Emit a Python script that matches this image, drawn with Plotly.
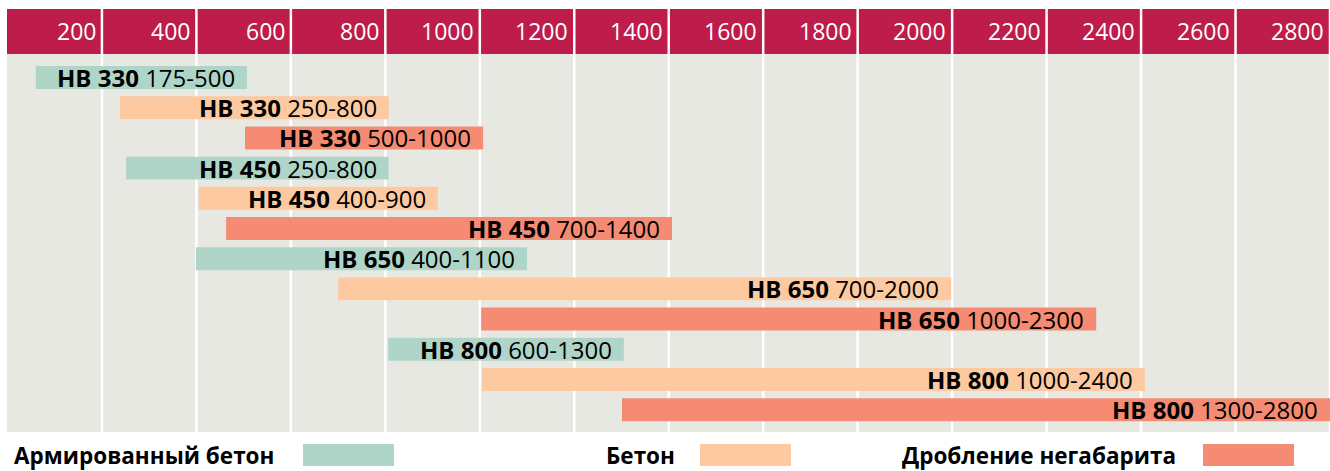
import plotly.graph_objects as go

# ---- data ----
models = ["HB 330", "HB 330", "HB 330", "HB 450", "HB 450", "HB 450",
          "HB 650", "HB 650", "HB 650", "HB 800", "HB 800", "HB 800"]
range_labels = ["175-500", "250-800", "500-1000", "250-800", "400-900", "700-1400",
                "400-1100", "700-2000", "1000-2300", "600-1300", "1000-2400", "1300-2800"]
bar_start = [60, 238, 503, 251, 405, 463, 399, 700, 1003, 806, 1005, 1301]
bar_end = [507, 807, 1007, 807, 911, 1407, 1100, 1998, 2305, 1305, 2408, 2800]
material = ["Армированный бетон", "Бетон", "Дробление негабарита"] * 4
categories = ["Армированный бетон", "Бетон", "Дробление негабарита"]
tick_values = [200, 400, 600, 800, 1000, 1200, 1400, 1600, 1800, 2000, 2200, 2400, 2600, 2800]

# ---- style ----
colors = {"Армированный бетон": "#AFD5C9", "Бетон": "#FDC9A0", "Дробление негабарита": "#F48B72"}
HEADER = "#BE1C4A"
BG = "#E8E8E3"
W, H = 1330, 471
ML, MR, MT, MB = 7, 0, 54, 39
XR = [-1, 2800]
YR = [11.74, -0.78]
plot_w = W - ML - MR
plot_h = H - MT - MB
header_h = 45
header_top = 1 + header_h / plot_h
FONT = "Open Sans"


def xp(v):
    return (v - XR[0]) / (XR[1] - XR[0])


def px2paper_x(px):
    return (px - ML) / plot_w


def py2paper_y(py):
    return (H - MB - py) / plot_h


fig = go.Figure()
rows = list(range(len(models)))
for cat in categories:
    idx = [i for i in rows if material[i] == cat]
    fig.add_trace(go.Bar(
        orientation="h",
        y=[rows[i] for i in idx],
        base=[bar_start[i] for i in idx],
        x=[bar_end[i] - bar_start[i] for i in idx],
        width=0.76,
        marker=dict(color=colors[cat], line=dict(width=0)),
        name=cat,
        showlegend=False,
        hoverinfo="skip",
    ))

shapes = []
annotations = []
# header band
shapes.append(dict(type="rect", xref="paper", yref="paper", x0=0, x1=1, y0=1, y1=header_top,
                   fillcolor=HEADER, line=dict(width=0), layer="below"))
# grid lines (body + header)
for v in tick_values:
    shapes.append(dict(type="line", xref="paper", yref="paper", x0=xp(v), x1=xp(v),
                       y0=0, y1=header_top, line=dict(color="white", width=2.5), layer="below"))
# header tick labels
for v in tick_values:
    annotations.append(dict(x=xp(v), y=1 + (header_h / 2) / plot_h, xref="paper", yref="paper",
                            text=str(v), showarrow=False, xanchor="right", yanchor="middle",
                            xshift=-4, font=dict(family=FONT, size=23, color="white")))
# bar labels
for i in rows:
    annotations.append(dict(x=bar_end[i], y=rows[i], xref="x", yref="y",
                            text=f"<b>{models[i]}</b> {range_labels[i]}", showarrow=False,
                            xanchor="right", yanchor="middle", xshift=-10, yshift=0,
                            font=dict(family=FONT, size=24, color="black")))
# custom legend
leg_text_x = [12, 604, 900]
leg_sw_x = [303, 700, 1203]
for cat, tx, sx in zip(categories, leg_text_x, leg_sw_x):
    annotations.append(dict(x=px2paper_x(tx), y=py2paper_y(455), xref="paper", yref="paper",
                            text=f"<b>{cat}</b>", showarrow=False, xanchor="left", yanchor="middle",
                            font=dict(family=FONT, size=22.5, color="black")))
    shapes.append(dict(type="rect", xref="paper", yref="paper",
                       x0=px2paper_x(sx), x1=px2paper_x(sx + 91),
                       y0=py2paper_y(466), y1=py2paper_y(444),
                       fillcolor=colors[cat], line=dict(width=0)))

fig.update_layout(
    width=W, height=H,
    margin=dict(l=ML, r=MR, t=MT, b=MB),
    paper_bgcolor="white", plot_bgcolor=BG,
    xaxis=dict(range=XR, visible=False, fixedrange=True),
    yaxis=dict(range=YR, visible=False, fixedrange=True),
    barmode="overlay",
    shapes=shapes, annotations=annotations,
    showlegend=False,
)
fig.write_html("out.html", config={"displayModeBar": False},
               post_script="document.body.style.margin='0';document.body.style.overflow='hidden';")
